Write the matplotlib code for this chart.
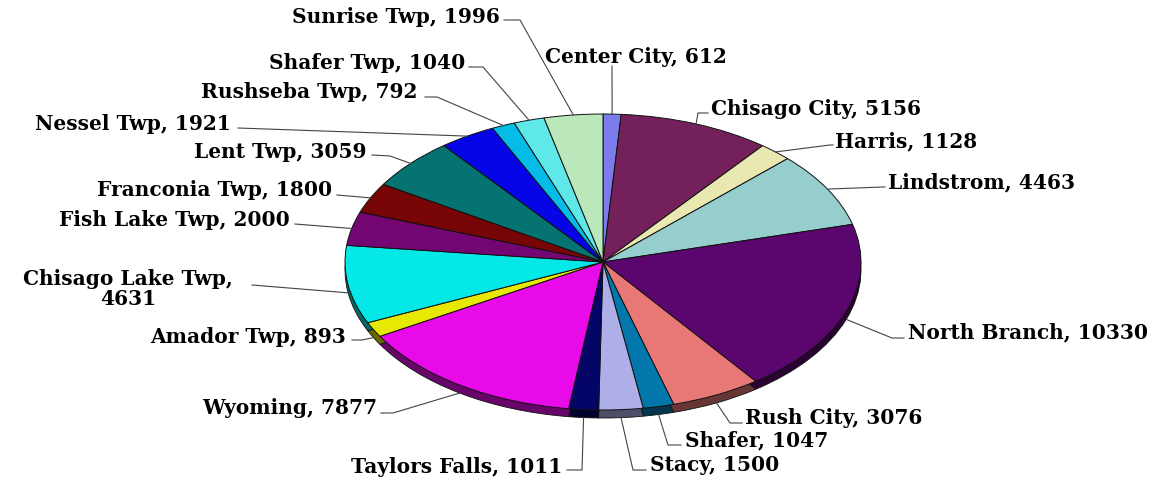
import numpy as np
import matplotlib.pyplot as plt
from matplotlib.colors import to_rgb

# population by place, clockwise from 12 o'clock
places = ['Center City', 'Chisago City', 'Harris', 'Lindstrom', 'North Branch',
          'Rush City', 'Shafer', 'Stacy', 'Taylors Falls', 'Wyoming',
          'Amador Twp', 'Chisago Lake Twp', 'Fish Lake Twp', 'Franconia Twp',
          'Lent Twp', 'Nessel Twp', 'Rushseba Twp', 'Shafer Twp', 'Sunrise Twp']
population = [612, 5156, 1128, 4463, 10330,
              3076, 1047, 1500, 1011, 7877,
              893, 4631, 2000, 1800,
              3059, 1921, 792, 1040, 1996]
colors = ['#7b7beb', '#74205a', '#e8e8b0', '#96cdcd', '#5b066e',
          '#e87876', '#0277ab', '#aeaee8', '#050568', '#e80ae8',
          '#e8e805', '#05e8e8', '#730673', '#780505',
          '#067373', '#0505e8', '#05bbe8', '#5fe8e8', '#bbe8bb']

# label layout in pixels: text anchor, alignment, leader elbow, leader end near text
text_xy = [(545, 57), (711, 109), (835, 141), (888, 182), (908, 332),
           (745, 418), (685, 440), (650, 465), (562, 467), (377, 408),
           (346, 337), (128, 289), (290, 220), (332, 190),
           (367, 152), (231, 124), (417, 92), (465, 63), (500, 17)]
text_ha = ['left', 'left', 'left', 'left', 'left',
           'left', 'left', 'left', 'right', 'right',
           'right', 'center', 'right', 'right',
           'right', 'right', 'right', 'right', 'right']
elbow = [(612, 66), (698, 113), (830, 145), (883, 187), (892, 338),
         (730, 423), (668, 445), (633, 470), (582, 470), (393, 413),
         (362, 340), (252, 285), (295, 224), (337, 195),
         (390, 156), (238, 128), (437, 97), (483, 67), (520, 20)]
line_end = [(612, 66), (708, 113), (833, 145), (885, 187), (904, 338),
            (742, 423), (681, 445), (646, 470), (567, 470), (381, 413),
            (352, 340), (252, 285), (295, 224), (337, 195),
            (372, 155), (238, 128), (425, 97), (469, 67), (504, 20)]
wrapped = {'Chisago Lake Twp'}

W, H = 1167, 482
CX, CY, RX, RY = 603, 262, 258, 148
DEPTH = 8


def to_data(x, y):
    return (x - CX) / RX, (CY - y) / RY


fig = plt.figure(figsize=(W / 100, H / 100), dpi=100)
ax = fig.add_axes([0, 0, 1, 1])

# side of the tilted pie: darker copy shifted down
shade = [tuple(c * 0.45 for c in to_rgb(col)) for col in colors]
ax.pie(population, colors=shade, startangle=90, counterclock=False,
       center=(0, -DEPTH / RY), radius=1, frame=True,
       wedgeprops=dict(edgecolor='#111111', linewidth=0.6))
wedges, _ = ax.pie(population, colors=colors, startangle=90, counterclock=False,
                   center=(0, 0), radius=1, frame=True,
                   wedgeprops=dict(edgecolor='#111111', linewidth=0.7))

ax.set_aspect('auto')
ax.set_xlim(-CX / RX, (W - CX) / RX)
ax.set_ylim((CY - H) / RY, CY / RY)
ax.axis('off')

for i, w in enumerate(wedges):
    mid = np.deg2rad((w.theta1 + w.theta2) / 2)
    ax_x, ax_y = np.cos(mid), np.sin(mid)
    if ax_y < 0:
        ax_y -= DEPTH / RY
    ex, ey = to_data(*elbow[i])
    lx, ly = to_data(*line_end[i])
    ax.plot([ax_x, ex, lx], [ax_y, ey, ly], color='#444444', lw=0.8,
            clip_on=False)

    if places[i] in wrapped:
        label = f'{places[i]},\n{population[i]}'
    else:
        label = f'{places[i]}, {population[i]}'
    tx, ty = to_data(*text_xy[i])
    ax.text(tx, ty, label, ha=text_ha[i], va='center', multialignment='center',
            fontsize=14.5, fontweight='bold', family='DejaVu Serif',
            linespacing=0.95, color='black')

fig.savefig('out.png', dpi=100)
